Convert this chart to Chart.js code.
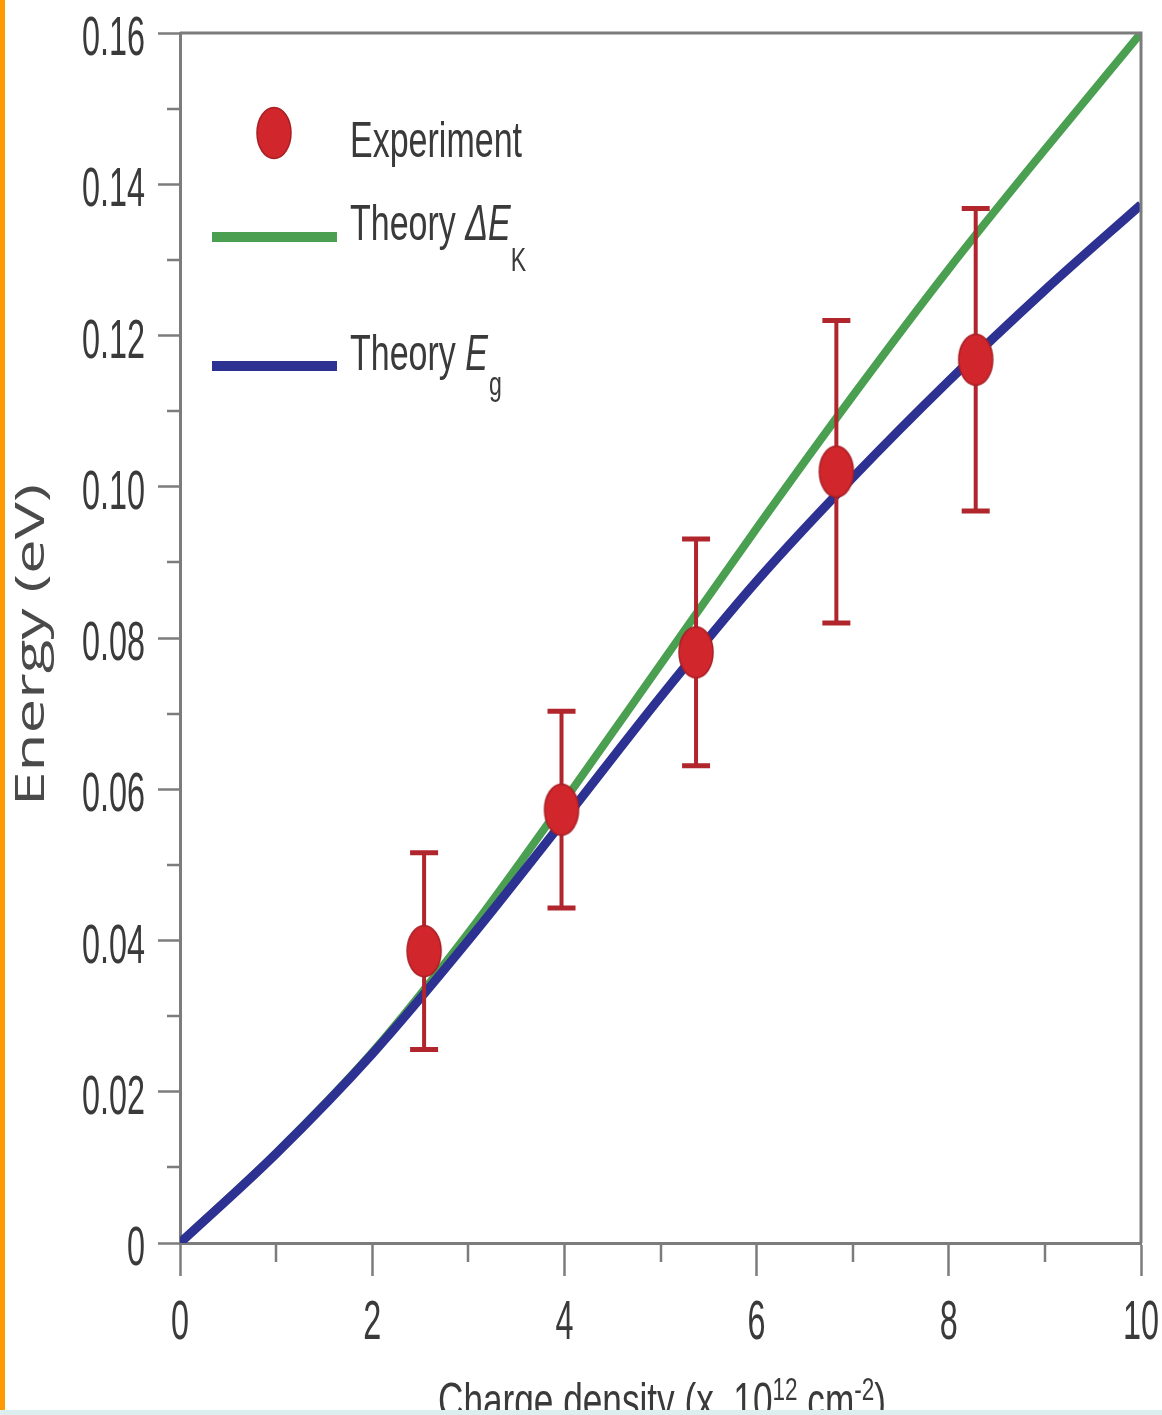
<!DOCTYPE html>
<html>
<head>
<meta charset="utf-8">
<title>Energy vs charge density</title>
<script src="https://cdn.jsdelivr.net/npm/chart.js@4.4.1/dist/chart.umd.min.js"></script>
<style>
  html, body { margin: 0; padding: 0; background: #fff; }
  #wrap { position: relative; width: 1162px; height: 1415px; overflow: hidden; }
  #chart { position: absolute; left: 0; top: 0; }
  #edge { position: absolute; left: 0; top: 0; width: 5px; height: 1410px; background: #ff9a00; }
  #foot { position: absolute; left: 0; top: 1410px; width: 1162px; height: 5px; background: #dbefee; }
</style>
</head>
<body>
<div id="wrap">
  <canvas id="chart" width="1162" height="1410"></canvas>
  <div id="edge"></div>
  <div id="foot"></div>
</div>
<script>
// Experiment points (charge density in 1e12 cm^-2, energy in eV)
const expDensity = [2.54, 3.97, 5.37, 6.83, 8.28];
const expEnergy = [0.0386, 0.0573, 0.0781, 0.1020, 0.1168];
const expError = [0.013, 0.013, 0.015, 0.020, 0.020];

// Theory curves, sampled along the density axis
const theoryDensity = [0, 1, 2, 3, 4, 5, 6, 7, 8, 9, 10];
const theoryDeltaEK = [0, 0.0119, 0.0252, 0.0410, 0.0585, 0.0765, 0.0945, 0.1120, 0.1288, 0.1446, 0.1600];
const theoryEg = [0, 0.0118, 0.0250, 0.0400, 0.0560, 0.0722, 0.0875, 0.1012, 0.1140, 0.1260, 0.1373];

// Axis ticks
const xMajorTicks = [0, 2, 4, 6, 8, 10];
const xMinorTicks = [1, 3, 5, 7, 9];
const yMajorTicks = [0, 0.02, 0.04, 0.06, 0.08, 0.10, 0.12, 0.14, 0.16];
const yMinorTicks = [0.01, 0.03, 0.05, 0.07, 0.09, 0.11, 0.13, 0.15];
const yTickLabels = ['0', '0.02', '0.04', '0.06', '0.08', '0.10', '0.12', '0.14', '0.16'];
const xTickLabels = ['0', '2', '4', '6', '8', '10'];

const RED = '#d0262c';
const RED_DARK = '#b0262c';
const GREEN = '#4a9f50';
const BLUE = '#2c3192';
const AXIS = '#7c7c7c';
const TEXT = '#3a3a3a';
const narrowFont = '"Liberation Sans Narrow", "Liberation Sans", sans-serif';

// tall ellipse marker used for the experiment points
function makeDot() {
    const c = document.createElement('canvas');
    c.width = 38;
    c.height = 54;
    const g = c.getContext('2d');
    g.beginPath();
    g.ellipse(19, 27, 17, 25.5, 0, 0, Math.PI * 2);
    g.fillStyle = RED;
    g.fill();
    g.lineWidth = 1.5;
    g.strokeStyle = '#a81f25';
    g.stroke();
    return c;
}
const dotImage = makeDot();

// draw text squeezed horizontally by sx
function squeezed(ctx, str, x, y, font, sx, align) {
    ctx.save();
    ctx.font = font;
    const w = ctx.measureText(str).width * sx;
    let x0 = x;
    if (align === 'right') x0 = x - w;
    if (align === 'center') x0 = x - w / 2;
    ctx.translate(x0, y);
    ctx.scale(sx, 1);
    ctx.textAlign = 'left';
    ctx.textBaseline = 'alphabetic';
    ctx.fillStyle = TEXT;
    ctx.fillText(str, 0, 0);
    ctx.restore();
    return w;
}

function widthOf(ctx, str, font) {
    ctx.save();
    ctx.font = font;
    const w = ctx.measureText(str).width;
    ctx.restore();
    return w;
}

const framePlugin = {
    id: 'frame',
    afterDraw(chart) {
        const ctx = chart.ctx;
        const a = chart.chartArea;
        const xs = chart.scales.x;
        const ys = chart.scales.y;

        ctx.save();
        // top and right frame lines
        ctx.strokeStyle = AXIS;
        ctx.lineWidth = 3;
        ctx.beginPath();
        ctx.moveTo(a.left, a.top);
        ctx.lineTo(a.right, a.top);
        ctx.lineTo(a.right, a.bottom);
        ctx.stroke();

        // minor ticks
        ctx.lineWidth = 2.5;
        ctx.beginPath();
        yMinorTicks.forEach(v => {
            const py = Math.round(ys.getPixelForValue(v));
            ctx.moveTo(a.left - 13, py);
            ctx.lineTo(a.left, py);
        });
        xMinorTicks.forEach(v => {
            const px = Math.round(xs.getPixelForValue(v));
            ctx.moveTo(px, a.bottom);
            ctx.lineTo(px, a.bottom + 19);
        });
        ctx.stroke();
        ctx.restore();

        // tick labels (condensed)
        const tickFont = '56px ' + narrowFont;
        const tickSx = 63 / widthOf(ctx, '0.16', tickFont);
        yMajorTicks.forEach((v, i) => {
            const py = ys.getPixelForValue(v);
            squeezed(ctx, yTickLabels[i], a.left - 35, py + 22, tickFont, tickSx, 'right');
        });
        xMajorTicks.forEach((v, i) => {
            const px = xs.getPixelForValue(v);
            squeezed(ctx, xTickLabels[i], px, a.bottom + 96, tickFont, tickSx, 'center');
        });

        // x axis title, runs off the bottom edge
        const tFont = '50px ' + narrowFont;
        const sFont = '32px ' + narrowFont;
        const parts = [
            ['Charge density (x  10', tFont, 0],
            ['12', sFont, -18],
            [' cm', tFont, 0],
            ['-2', sFont, -18],
            [')', tFont, 0]
        ];
        let total = 0;
        parts.forEach(p => { total += widthOf(ctx, p[0], p[1]); });
        const tSx = 448 / total;
        let tx = 438;
        const baseY = a.bottom + 175;
        parts.forEach(p => {
            tx += squeezed(ctx, p[0], tx, baseY + p[2], p[1], tSx, 'left');
        });

        // y axis title, rotated
        ctx.save();
        const yFont = '40px "Open Sans", "DejaVu Sans", sans-serif';
        ctx.font = yFont;
        const yLen = ctx.measureText('Energy (eV)').width;
        ctx.translate(44, 645);
        ctx.rotate(-Math.PI / 2);
        ctx.scale(322 / yLen, 1);
        ctx.textAlign = 'center';
        ctx.textBaseline = 'alphabetic';
        ctx.fillStyle = '#4a4a4a';
        ctx.fillText('Energy (eV)', 0, 0);
        ctx.restore();

        // legend
        const lx = a.left;
        const ly = a.top;
        const lgFont = '50px ' + narrowFont;
        const lgItal = 'italic 50px ' + narrowFont;
        const lgSub = '34px ' + narrowFont;
        const lgSx = 172 / widthOf(ctx, 'Experiment', lgFont);
        ctx.drawImage(dotImage, lx + 94 - dotImage.width / 2, ly + 100 - dotImage.height / 2);
        squeezed(ctx, 'Experiment', lx + 170, ly + 124, lgFont, lgSx, 'left');

        ctx.save();
        ctx.lineWidth = 10;
        ctx.strokeStyle = GREEN;
        ctx.beginPath();
        ctx.moveTo(lx + 32, ly + 204);
        ctx.lineTo(lx + 157, ly + 204);
        ctx.stroke();
        ctx.strokeStyle = BLUE;
        ctx.beginPath();
        ctx.moveTo(lx + 32, ly + 333);
        ctx.lineTo(lx + 157, ly + 333);
        ctx.stroke();
        ctx.restore();

        let px = lx + 170;
        px += squeezed(ctx, 'Theory ', px, ly + 207, lgFont, lgSx, 'left');
        px += squeezed(ctx, '\u0394E', px, ly + 207, lgItal, lgSx, 'left');
        squeezed(ctx, 'K', px, ly + 238, lgSub, lgSx, 'left');

        px = lx + 170;
        px += squeezed(ctx, 'Theory ', px, ly + 337, lgFont, lgSx, 'left');
        px += squeezed(ctx, 'E', px, ly + 337, lgItal, lgSx, 'left');
        squeezed(ctx, 'g', px + 1, ly + 362, lgSub, lgSx, 'left');
    }
};

// error bars go under the experiment dots
const errorBarPlugin = {
    id: 'errorBars',
    beforeDatasetDraw(chart, args) {
        if (args.index !== 0) return;
        const ctx = chart.ctx;
        const xs = chart.scales.x;
        const ys = chart.scales.y;
        ctx.save();
        ctx.strokeStyle = RED_DARK;
        expDensity.forEach((d, i) => {
            const px = xs.getPixelForValue(d);
            const top = ys.getPixelForValue(expEnergy[i] + expError[i]);
            const bot = ys.getPixelForValue(expEnergy[i] - expError[i]);
            ctx.lineWidth = 4;
            ctx.beginPath();
            ctx.moveTo(px, top);
            ctx.lineTo(px, bot);
            ctx.stroke();
            ctx.lineWidth = 5;
            ctx.beginPath();
            ctx.moveTo(px - 14, top);
            ctx.lineTo(px + 14, top);
            ctx.moveTo(px - 14, bot);
            ctx.lineTo(px + 14, bot);
            ctx.stroke();
        });
        ctx.restore();
    }
};

const ctx = document.getElementById('chart');

new Chart(ctx, {
    type: 'scatter',
    data: {
        datasets: [
            {
                label: 'Experiment',
                data: expDensity.map((x, i) => ({ x: x, y: expEnergy[i] })),
                pointStyle: dotImage,
                pointRadius: 20,
                order: 0
            },
            {
                label: 'Theory Eg',
                data: theoryDensity.map((x, i) => ({ x: x, y: theoryEg[i] })),
                showLine: true,
                borderColor: BLUE,
                borderWidth: 9,
                pointRadius: 0,
                cubicInterpolationMode: 'monotone',
                order: 1
            },
            {
                label: 'Theory dEK',
                data: theoryDensity.map((x, i) => ({ x: x, y: theoryDeltaEK[i] })),
                showLine: true,
                borderColor: GREEN,
                borderWidth: 8,
                pointRadius: 0,
                cubicInterpolationMode: 'monotone',
                order: 2
            }
        ]
    },
    options: {
        responsive: false,
        animation: false,
        devicePixelRatio: 1,
        layout: { padding: { top: 33, right: 20, left: 0, bottom: 0 } },
        plugins: {
            legend: { display: false },
            tooltip: { enabled: false }
        },
        scales: {
            x: {
                type: 'linear',
                min: 0,
                max: 10,
                ticks: { stepSize: 2, display: false },
                grid: { drawOnChartArea: false, tickLength: 33, tickColor: AXIS, tickWidth: 2.5, color: AXIS },
                border: { color: AXIS, width: 3 },
                afterFit(s) { s.height = 167; }
            },
            y: {
                type: 'linear',
                min: 0,
                max: 0.16,
                ticks: { stepSize: 0.02, display: false },
                grid: { drawOnChartArea: false, tickLength: 22, tickColor: AXIS, tickWidth: 2.5, color: AXIS },
                border: { color: AXIS, width: 3 },
                afterFit(s) { s.width = 180; }
            }
        }
    },
    plugins: [errorBarPlugin, framePlugin]
});
</script>
</body>
</html>
